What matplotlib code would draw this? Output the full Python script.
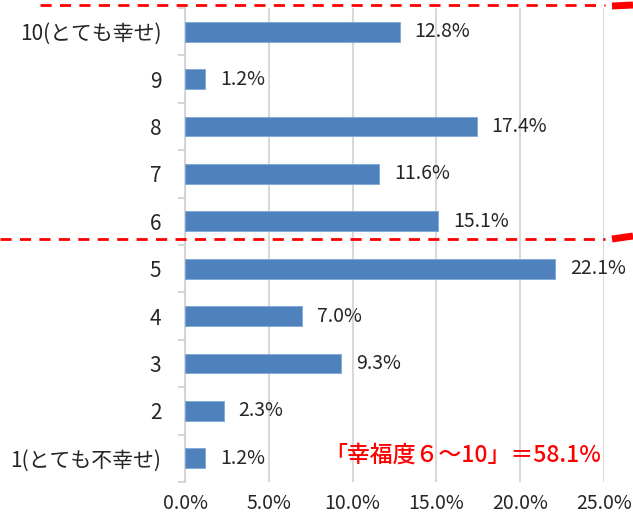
import matplotlib
matplotlib.use("Agg")
import matplotlib.pyplot as plt
from matplotlib.lines import Line2D

plt.rcParams['font.family'] = ['Noto Sans CJK JP', 'DejaVu Sans']

# data (bottom to top)
labels = ['1(とても不幸せ)', '2', '3', '4', '5', '6', '7', '8', '9', '10(とても幸せ)']
values = [1.2, 2.3, 9.3, 7.0, 22.1, 15.1, 11.6, 17.4, 1.2, 12.8]
xticks = [0, 5, 10, 15, 20, 25]
note = '「幸福度６～10」＝58.1%'

W, H = 633, 525
fig = plt.figure(figsize=(W / 100, H / 100), dpi=100)
ax = fig.add_axes([185 / W, 1 - 482 / H, 419 / W, 474 / H])

txt = '#262626'
pos = list(range(len(labels)))
ax.barh(pos, values, height=0.42, color='#4f81bd', edgecolor='#7ea6d8', linewidth=0.6, zorder=3)
for p, v in zip(pos, values):
    ax.text(v + 0.9, p, f'{v:.1f}%', va='center', ha='left', fontsize=14, color=txt)

ax.set_xlim(0, 25)
ax.set_ylim(-0.5, len(labels) - 0.5)
ax.set_xticks(xticks)
ax.set_xticklabels([f'{t:.1f}%' for t in xticks], fontsize=14, color=txt)
ax.set_yticks(pos)
ax.set_yticklabels(labels, fontsize=15, color=txt)
ax.set_yticks([p - 0.5 for p in pos] + [len(labels) - 0.5], minor=True)
ax.tick_params(axis='y', which='major', length=0, pad=17)
ax.tick_params(axis='y', which='minor', length=5, color='#d0d0d0', width=1.2)
ax.tick_params(axis='x', length=0, pad=8)

ax.grid(axis='x', color='#d9d9d9', linewidth=1.5, zorder=0)
for s in ['top', 'right', 'bottom']:
    ax.spines[s].set_visible(False)
ax.spines['left'].set_color('#d0d0d0')
ax.spines['left'].set_linewidth(1.2)

ax.text(416 / 419, 0.057, note, transform=ax.transAxes, ha='right', va='center',
        fontsize=16.5, color='#ff0000', fontweight='medium')

# red dashed separators (figure coordinates)
def fx(x):
    return x / W

def fy(y):
    return 1 - y / H

fig.add_artist(Line2D([fx(40), fx(605)], [fy(5), fy(5)], color='#ff0000', lw=2, ls=(0, (4, 3))))
fig.add_artist(Line2D([fx(0), fx(605)], [fy(239), fy(239)], color='#ff0000', lw=2, ls=(0, (4, 3))))
fig.add_artist(Line2D([fx(612), fx(633)], [fy(6), fy(5)], color='#ff0000', lw=5, solid_capstyle='butt'))
fig.add_artist(Line2D([fx(612), fx(633)], [fy(239), fy(236)], color='#ff0000', lw=5, solid_capstyle='butt'))

plt.savefig('out.png', dpi=100)
